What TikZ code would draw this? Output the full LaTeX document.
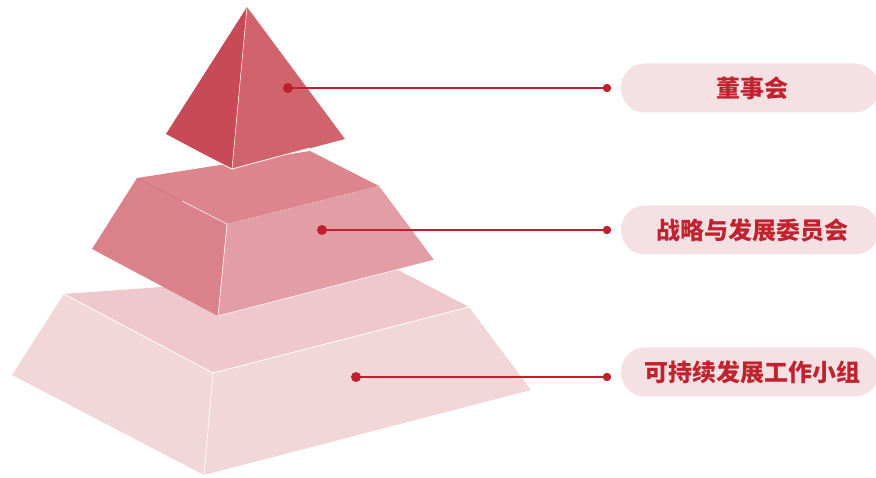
\documentclass[tikz,border=0pt]{standalone}
\usepackage{fontspec}
\newfontfamily\cjk{Noto Sans CJK SC}
\definecolor{tpL}{HTML}{C84A56}
\definecolor{tpR}{HTML}{D1636C}
\definecolor{mdT}{HTML}{DC858C}
\definecolor{mdL}{HTML}{DA8189}
\definecolor{mdR}{HTML}{E29EA4}
\definecolor{btT}{HTML}{EEC8CC}
\definecolor{btS}{HTML}{F2D7D9}
\definecolor{boxbg}{HTML}{F5E1E3}
\definecolor{lnred}{HTML}{C01F2D}
\definecolor{txred}{HTML}{C0232F}
\tikzset{
  edgeline/.style={draw=white,line width=0.8pt},
  lbox/.style={fill=boxbg,rounded corners=24pt,minimum width=258pt,minimum height=49pt,inner sep=0pt,
    font=\cjk\bfseries\fontsize{24}{27}\selectfont,text=txred},
  conn/.style={draw=lnred,line width=2pt},
  dotbig/.style={fill=lnred},
}
\begin{document}
\begin{tikzpicture}[x=1pt,y=-1pt]
\useasboundingbox (0,0) rectangle (876,478);
% bottom layer
\fill[btT] (64,294) -- (398,270) -- (469,307) -- (213,373) -- cycle;
\fill[btS] (12,375) -- (64,294) -- (213,373) -- (204,475) -- cycle;
\fill[btS] (213,373) -- (469,307) -- (531,390) -- (204,475) -- cycle;
\draw[edgeline] (64,294) -- (213,373) -- (469,307);
\draw[edgeline,line width=0.6pt] (213,373) -- (204,475);
% middle layer
\fill[mdT] (137,178) -- (310,151) -- (379,186) -- (227,224) -- cycle;
\fill[mdL] (92,249) -- (137,178) -- (227,224) -- (218,316) -- cycle;
\fill[mdR] (227,224) -- (379,186) -- (434,260) -- (218,316) -- cycle;
\draw[draw=tpR!70!mdL,line width=0.5pt] (137,178) -- (182,201);
\draw[edgeline,line width=0.5pt] (182,201) -- (227,224);
\draw[edgeline,line width=0.6pt] (227,224) -- (218,316);
\draw[edgeline,line width=0.6pt] (218,316) -- (434,260);
% top pyramid
\fill[tpL] (247,7) -- (166,134) -- (232,169) -- cycle;
\fill[tpR] (247,7) -- (232,169) -- (345,139) -- cycle;
\draw[edgeline,line width=0.5pt] (247,7) -- (232,169);
\draw[edgeline,line width=0.8pt] (210,158) -- (232,169) -- (310,148);
% label boxes
\node[lbox] (b1) at (750,88) {\hspace{5pt}董事会};
\node[lbox] (b2) at (750,230) {\hspace{5pt}战略与发展委员会};
\node[lbox] (b3) at (750,372) {\hspace{5pt}可持续发展工作小组};
% connectors
\coordinate (d1) at (288,88);
\coordinate (e1) at (607,88);
\coordinate (d2) at (322,230);
\coordinate (e2) at (607,230);
\coordinate (d3) at (356,377);
\coordinate (e3) at (607,377);
\foreach \i in {1,2,3}{
  \draw[conn] (d\i) -- (e\i);
  \fill[dotbig] (d\i) circle (5pt);
  \fill[dotbig] (e\i) circle (4.2pt);
}
\end{tikzpicture}
\end{document}
